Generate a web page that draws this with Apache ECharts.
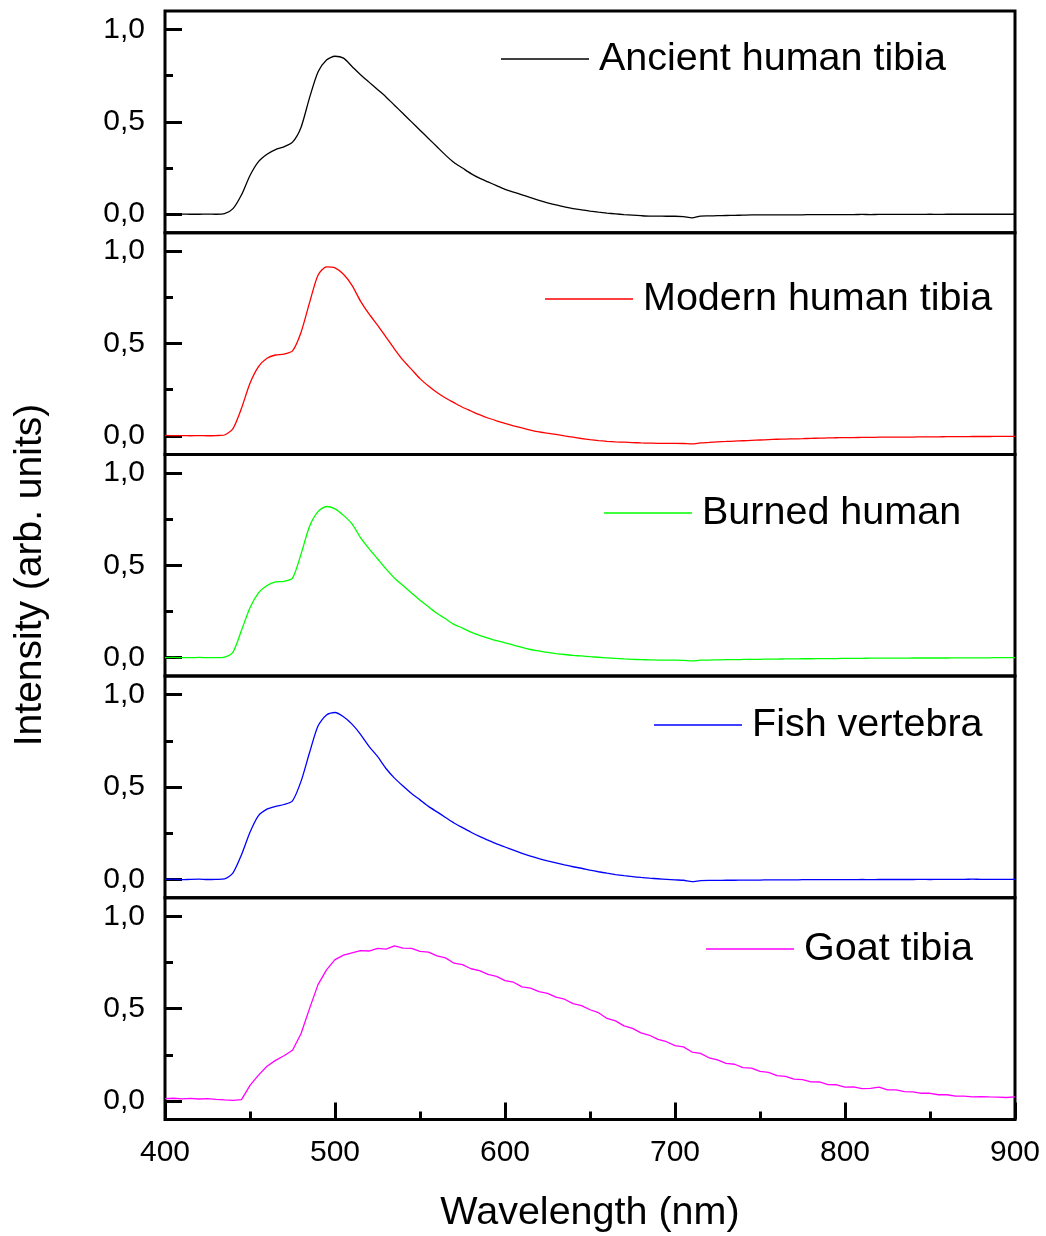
<!DOCTYPE html>
<html>
<head>
<meta charset="utf-8">
<title>Luminescence spectra of bone samples</title>
<script src="https://cdn.jsdelivr.net/npm/echarts@6/dist/echarts.min.js"></script>
<style>
  html, body { margin: 0; padding: 0; background: #fff; }
  #chart { width: 1046px; height: 1236px; }
</style>
</head>
<body>
<div id="chart"></div>
<script>
// Wavelength sampling grid (nm), 5 nm steps from 400 to 900
const wavelength = [];
for (let w = 400; w <= 900; w += 5) wavelength.push(w);

const seriesNames = ['Ancient human tibia', 'Modern human tibia', 'Burned human', 'Fish vertebra', 'Goat tibia'];
const seriesColors = ['#000000', '#ff0000', '#00ff00', '#0000ff', '#ff00ff'];

// Normalised intensity, one value per wavelength sample
const ancientTibia = [
  0, 0, 0.001, 0, 0, 0.001, 0, 0.003,
  0.03, 0.105, 0.21, 0.285, 0.325, 0.35, 0.365, 0.39, 0.47, 0.63, 0.77, 0.835,
  0.855, 0.845, 0.80, 0.755, 0.715, 0.675, 0.635, 0.59, 0.545, 0.50, 0.455, 0.41, 0.365, 0.32, 0.28, 0.25, 0.22, 0.195, 0.175, 0.155,
  0.135, 0.12, 0.105, 0.09, 0.075, 0.062, 0.05, 0.04, 0.03, 0.024, 0.017, 0.011, 0.006, 0.002, -0.002, -0.005, -0.008, -0.01, -0.01, -0.011,
  -0.011, -0.013, -0.02, -0.01, -0.009, -0.008, -0.007, -0.006, -0.005, -0.004, -0.004, -0.004, -0.003, -0.003, -0.003, -0.003, -0.002, -0.002, -0.002, -0.002,
  -0.002, -0.002, -0.001, -0.002, -0.001, -0.001, -0.001, -0.001, -0.001, -0.001, 0, -0.001, 0, 0, 0, 0, 0, 0, 0, 0, 0
];
const modernTibia = [
  0.003, 0.002, 0.002, 0.001, 0.002, 0.001, 0.002, 0.005,
  0.04, 0.15, 0.285, 0.375, 0.42, 0.438, 0.443, 0.46, 0.56, 0.72, 0.87, 0.915,
  0.91, 0.875, 0.815, 0.73, 0.66, 0.60, 0.535, 0.47, 0.41, 0.36, 0.31, 0.27, 0.235, 0.205, 0.18, 0.155, 0.135, 0.115, 0.097, 0.082,
  0.068, 0.055, 0.043, 0.032, 0.022, 0.015, 0.008, 0.0, -0.007, -0.014, -0.02, -0.025, -0.029, -0.032, -0.034, -0.036, -0.038, -0.039, -0.04, -0.04,
  -0.04, -0.041, -0.043, -0.038, -0.035, -0.032, -0.03, -0.028, -0.026, -0.024, -0.022, -0.02, -0.018, -0.017, -0.016, -0.015, -0.013, -0.012, -0.011, -0.01,
  -0.009, -0.009, -0.008, -0.008, -0.007, -0.007, -0.006, -0.006, -0.006, -0.005, -0.005, -0.005, -0.004, -0.004, -0.004, -0.003, -0.003, -0.003, -0.002, -0.002, -0.002
];
const burnedHuman = [
  0, 0.001, 0, 0, 0.001, 0, 0, 0.003,
  0.03, 0.148, 0.27, 0.35, 0.39, 0.41, 0.413, 0.43, 0.56, 0.71, 0.79, 0.818,
  0.805, 0.77, 0.724, 0.65, 0.59, 0.535, 0.48, 0.43, 0.39, 0.35, 0.31, 0.275, 0.24, 0.21, 0.18, 0.16, 0.138, 0.12, 0.106, 0.092,
  0.08, 0.068, 0.055, 0.044, 0.036, 0.028, 0.022, 0.017, 0.012, 0.009, 0.005, 0.002, -0.001, -0.004, -0.007, -0.009, -0.011, -0.012, -0.013, -0.014,
  -0.014, -0.015, -0.018, -0.014, -0.013, -0.012, -0.011, -0.011, -0.01, -0.009, -0.009, -0.008, -0.008, -0.007, -0.007, -0.006, -0.006, -0.005, -0.005, -0.005,
  -0.004, -0.004, -0.004, -0.003, -0.003, -0.003, -0.003, -0.003, -0.002, -0.002, -0.002, -0.002, -0.002, -0.001, -0.001, -0.001, -0.001, -0.001, 0, 0, 0
];
const fishVertebra = [
  0, 0.001, -0.002, 0, 0.001, -0.001, 0, 0.002,
  0.035, 0.133, 0.255, 0.345, 0.38, 0.395, 0.405, 0.425, 0.53, 0.685, 0.83, 0.89,
  0.903, 0.88, 0.84, 0.785, 0.72, 0.665, 0.60, 0.548, 0.505, 0.465, 0.43, 0.395, 0.365, 0.335, 0.305, 0.28, 0.255, 0.232, 0.212, 0.192,
  0.175, 0.158, 0.14, 0.125, 0.112, 0.1, 0.089, 0.078, 0.068, 0.06, 0.05, 0.041, 0.033, 0.026, 0.02, 0.015, 0.01, 0.006, 0.003, 0.0,
  -0.003, -0.005, -0.012, -0.007, -0.006, -0.006, -0.005, -0.005, -0.004, -0.004, -0.004, -0.003, -0.003, -0.003, -0.003, -0.002, -0.002, -0.002, -0.002, -0.002,
  -0.002, -0.002, -0.001, -0.002, -0.001, -0.001, -0.001, -0.001, -0.001, 0, -0.001, 0, 0, 0, 0, 0.001, 0, 0, 0, 0, 0
];
const goatTibia = [
  0.013, 0.015, 0.012, 0.014, 0.011, 0.013, 0.009, 0.006,
  0.004, 0.008, 0.085, 0.14, 0.188, 0.22, 0.245, 0.275, 0.364, 0.5, 0.63, 0.71,
  0.765, 0.79, 0.802, 0.814, 0.812, 0.826, 0.822, 0.84, 0.828, 0.826, 0.81, 0.806, 0.786, 0.775, 0.746, 0.738, 0.716, 0.706, 0.686, 0.675,
  0.652, 0.643, 0.618, 0.611, 0.592, 0.583, 0.562, 0.551, 0.527, 0.516, 0.494, 0.478, 0.447, 0.434, 0.407, 0.393, 0.369, 0.356, 0.334, 0.321,
  0.3, 0.293, 0.265, 0.258, 0.234, 0.223, 0.204, 0.199, 0.181, 0.178, 0.16, 0.155, 0.137, 0.133, 0.118, 0.116, 0.104, 0.103, 0.089, 0.088,
  0.075, 0.077, 0.067, 0.069, 0.075, 0.06, 0.06, 0.051, 0.05, 0.042, 0.042, 0.034, 0.034, 0.026, 0.027, 0.022, 0.024, 0.022, 0.021, 0.019, 0.022
];
const seriesValues = [ancientTibia, modernTibia, burnedHuman, fishVertebra, goatTibia];

// Axis ticks
const yMajorTicks = [0, 0.5, 1];
const yMinorTicks = [0.25, 0.75];
const xTickInterval = 100;

// Panel layout
const panelTops = [11, 232.7, 454.4, 676.1, 897.8];
const panelHeight = 221.7;
const plotLeft = 165;
const plotWidth = 850;
// Legend placement per panel: [left of line, vertical centre]
const legendPos = [[501, 59], [545, 299], [604, 513], [654, 725], [706, 949]];

const FONT = "'Liberation Sans', Arial, sans-serif";
const n = seriesNames.length;

const grids = [], xAxes = [], yAxes = [], series = [], legends = [];
for (let k = 0; k < n; k++) {
  const last = k === n - 1;
  grids.push({
    left: plotLeft, top: panelTops[k], width: plotWidth, height: panelHeight,
    show: true, borderColor: '#000', borderWidth: 3, backgroundColor: 'transparent'
  });
  xAxes.push({
    type: 'value', gridIndex: k, position: 'bottom', min: 400, max: 900, interval: xTickInterval,
    axisLine: { show: false, onZero: false },
    splitLine: { show: false },
    axisTick: { show: last, inside: true, length: 17, lineStyle: { color: '#000', width: 3 } },
    minorTick: { show: last, splitNumber: 2, length: 8, lineStyle: { color: '#000', width: 3 } },
    axisLabel: { show: last, color: '#000', fontFamily: FONT, fontSize: 30, margin: 18 }
  });
  yAxes.push({
    type: 'value', gridIndex: k, position: 'left', min: -0.1, max: 1.1,
    axisLine: { show: false, onZero: false },
    splitLine: { show: false },
    axisTick: { show: true, inside: true, length: 17, customValues: yMajorTicks, lineStyle: { color: '#000', width: 3 } },
    axisLabel: {
      show: true, customValues: yMajorTicks, color: '#000', fontFamily: FONT, fontSize: 30, margin: 20,
      formatter: v => v.toFixed(1).replace('.', ',')
    }
  });
  yAxes.push({
    type: 'value', gridIndex: k, position: 'left', offset: 0, min: -0.1, max: 1.1,
    axisLine: { show: false, onZero: false },
    splitLine: { show: false },
    axisTick: { show: true, inside: true, length: 8, customValues: yMinorTicks, lineStyle: { color: '#000', width: 3 } },
    axisLabel: { show: false }
  });
  series.push({
    name: seriesNames[k], type: 'line', xAxisIndex: k, yAxisIndex: 2 * k,
    data: wavelength.map((w, i) => [w, seriesValues[k][i]]),
    symbol: 'none', showSymbol: false, smooth: last ? false : 0.25,
    color: seriesColors[k],
    lineStyle: { color: seriesColors[k], width: 1.3 },
    animation: false
  });
  legends.push({
    data: [seriesNames[k]], left: legendPos[k][0], top: legendPos[k][1] - 22,
    padding: 0, itemWidth: 88, itemHeight: 1.5, icon: 'rect', selectedMode: false,
    itemStyle: { color: seriesColors[k] },
    textStyle: { color: '#000', fontFamily: FONT, fontSize: 39.5, lineHeight: 44, padding: [0, 0, 0, 5] }
  });
}

const chart = echarts.init(document.getElementById('chart'));
chart.setOption({
  backgroundColor: '#fff',
  animation: false,
  grid: grids,
  xAxis: xAxes,
  yAxis: yAxes,
  series: series,
  legend: legends,
  graphic: [
    {
      type: 'text', x: 30, y: 575, rotation: Math.PI / 2,
      style: { text: 'Intensity (arb. units)', font: "39px 'Liberation Sans', Arial, sans-serif", fill: '#000', align: 'center', verticalAlign: 'middle' }
    },
    {
      type: 'text', x: 590, y: 1213,
      style: { text: 'Wavelength (nm)', font: "39.5px 'Liberation Sans', Arial, sans-serif", fill: '#000', align: 'center', verticalAlign: 'middle' }
    }
  ]
});
</script>
</body>
</html>
